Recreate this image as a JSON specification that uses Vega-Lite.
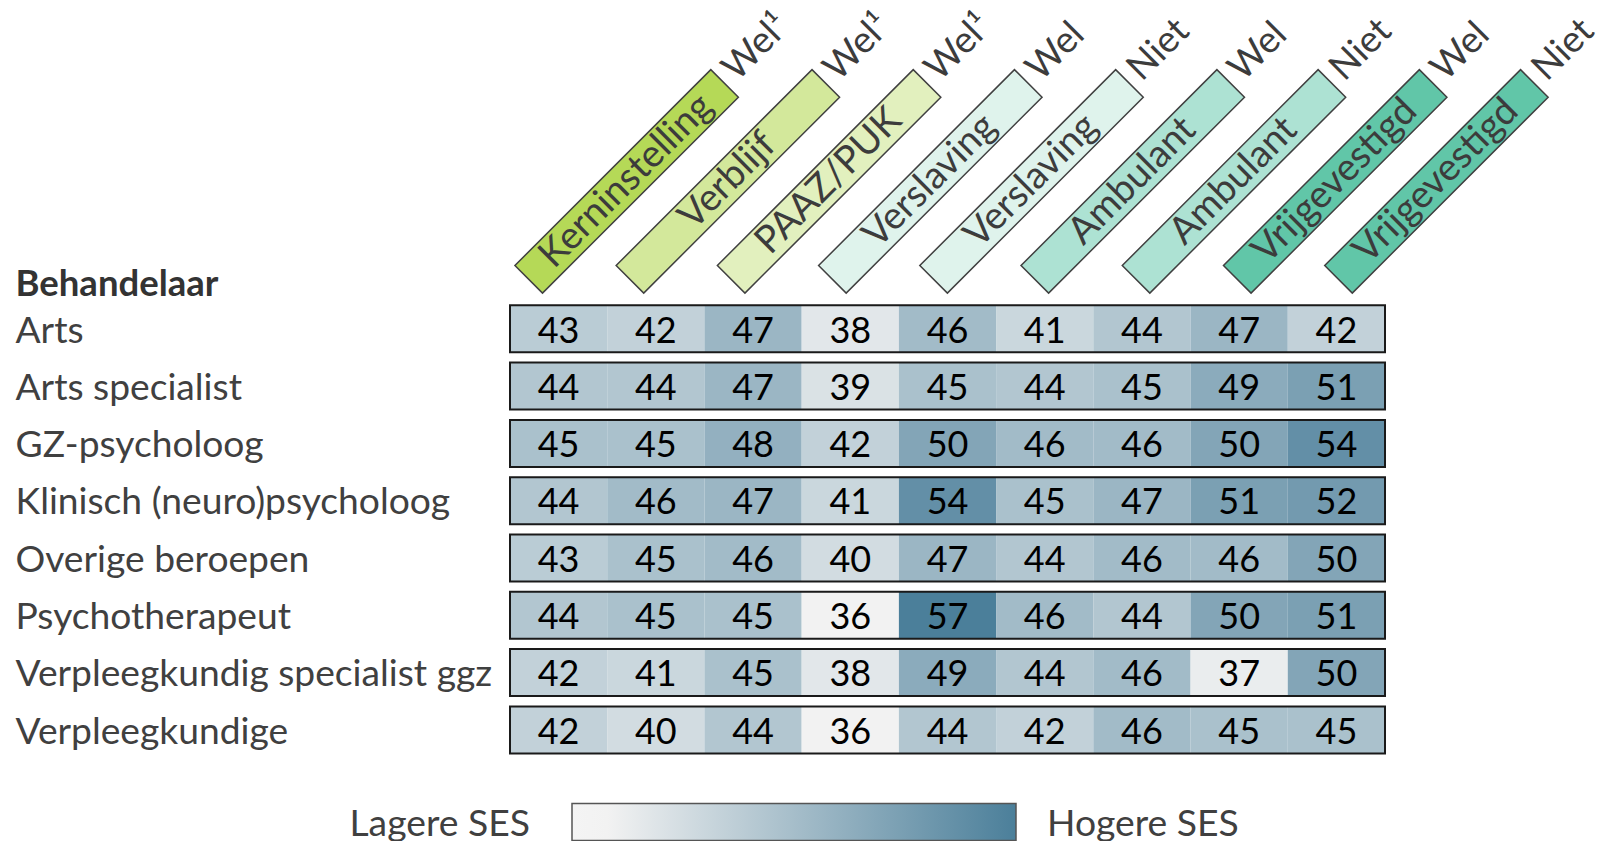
{
  "$schema": "https://vega.github.io/schema/vega-lite/v6.json",
  "autosize": {"type": "pad"},
  "padding": {"left": 15, "top": 0, "right": 4, "bottom": 0},
  "background": "white",
  "bounds": "flush",
  "spacing": 49.3,
  "config": {"font": "Lato", "view": {"stroke": null}},
  "datasets": {
    "kolommen": [
      {"kolom": "Kerninstelling (Wel¹)", "type": "Kerninstelling", "status": "Wel¹"},
      {"kolom": "Verblijf (Wel¹)", "type": "Verblijf", "status": "Wel¹"},
      {"kolom": "PAAZ/PUK (Wel¹)", "type": "PAAZ/PUK", "status": "Wel¹"},
      {"kolom": "Verslaving (Wel)", "type": "Verslaving", "status": "Wel"},
      {"kolom": "Verslaving (Niet)", "type": "Verslaving", "status": "Niet"},
      {"kolom": "Ambulant (Wel)", "type": "Ambulant", "status": "Wel"},
      {"kolom": "Ambulant (Niet)", "type": "Ambulant", "status": "Niet"},
      {"kolom": "Vrijgevestigd (Wel)", "type": "Vrijgevestigd", "status": "Wel"},
      {"kolom": "Vrijgevestigd (Niet)", "type": "Vrijgevestigd", "status": "Niet"}
    ],
    "cellen": [
      {"behandelaar": "Arts", "kolom": "Kerninstelling (Wel¹)", "ses": 43},
      {"behandelaar": "Arts", "kolom": "Verblijf (Wel¹)", "ses": 42},
      {"behandelaar": "Arts", "kolom": "PAAZ/PUK (Wel¹)", "ses": 47},
      {"behandelaar": "Arts", "kolom": "Verslaving (Wel)", "ses": 38},
      {"behandelaar": "Arts", "kolom": "Verslaving (Niet)", "ses": 46},
      {"behandelaar": "Arts", "kolom": "Ambulant (Wel)", "ses": 41},
      {"behandelaar": "Arts", "kolom": "Ambulant (Niet)", "ses": 44},
      {"behandelaar": "Arts", "kolom": "Vrijgevestigd (Wel)", "ses": 47},
      {"behandelaar": "Arts", "kolom": "Vrijgevestigd (Niet)", "ses": 42},
      {"behandelaar": "Arts specialist", "kolom": "Kerninstelling (Wel¹)", "ses": 44},
      {"behandelaar": "Arts specialist", "kolom": "Verblijf (Wel¹)", "ses": 44},
      {"behandelaar": "Arts specialist", "kolom": "PAAZ/PUK (Wel¹)", "ses": 47},
      {"behandelaar": "Arts specialist", "kolom": "Verslaving (Wel)", "ses": 39},
      {"behandelaar": "Arts specialist", "kolom": "Verslaving (Niet)", "ses": 45},
      {"behandelaar": "Arts specialist", "kolom": "Ambulant (Wel)", "ses": 44},
      {"behandelaar": "Arts specialist", "kolom": "Ambulant (Niet)", "ses": 45},
      {"behandelaar": "Arts specialist", "kolom": "Vrijgevestigd (Wel)", "ses": 49},
      {"behandelaar": "Arts specialist", "kolom": "Vrijgevestigd (Niet)", "ses": 51},
      {"behandelaar": "GZ-psycholoog", "kolom": "Kerninstelling (Wel¹)", "ses": 45},
      {"behandelaar": "GZ-psycholoog", "kolom": "Verblijf (Wel¹)", "ses": 45},
      {"behandelaar": "GZ-psycholoog", "kolom": "PAAZ/PUK (Wel¹)", "ses": 48},
      {"behandelaar": "GZ-psycholoog", "kolom": "Verslaving (Wel)", "ses": 42},
      {"behandelaar": "GZ-psycholoog", "kolom": "Verslaving (Niet)", "ses": 50},
      {"behandelaar": "GZ-psycholoog", "kolom": "Ambulant (Wel)", "ses": 46},
      {"behandelaar": "GZ-psycholoog", "kolom": "Ambulant (Niet)", "ses": 46},
      {"behandelaar": "GZ-psycholoog", "kolom": "Vrijgevestigd (Wel)", "ses": 50},
      {"behandelaar": "GZ-psycholoog", "kolom": "Vrijgevestigd (Niet)", "ses": 54},
      {"behandelaar": "Klinisch (neuro)psycholoog", "kolom": "Kerninstelling (Wel¹)", "ses": 44},
      {"behandelaar": "Klinisch (neuro)psycholoog", "kolom": "Verblijf (Wel¹)", "ses": 46},
      {"behandelaar": "Klinisch (neuro)psycholoog", "kolom": "PAAZ/PUK (Wel¹)", "ses": 47},
      {"behandelaar": "Klinisch (neuro)psycholoog", "kolom": "Verslaving (Wel)", "ses": 41},
      {"behandelaar": "Klinisch (neuro)psycholoog", "kolom": "Verslaving (Niet)", "ses": 54},
      {"behandelaar": "Klinisch (neuro)psycholoog", "kolom": "Ambulant (Wel)", "ses": 45},
      {"behandelaar": "Klinisch (neuro)psycholoog", "kolom": "Ambulant (Niet)", "ses": 47},
      {"behandelaar": "Klinisch (neuro)psycholoog", "kolom": "Vrijgevestigd (Wel)", "ses": 51},
      {"behandelaar": "Klinisch (neuro)psycholoog", "kolom": "Vrijgevestigd (Niet)", "ses": 52},
      {"behandelaar": "Overige beroepen", "kolom": "Kerninstelling (Wel¹)", "ses": 43},
      {"behandelaar": "Overige beroepen", "kolom": "Verblijf (Wel¹)", "ses": 45},
      {"behandelaar": "Overige beroepen", "kolom": "PAAZ/PUK (Wel¹)", "ses": 46},
      {"behandelaar": "Overige beroepen", "kolom": "Verslaving (Wel)", "ses": 40},
      {"behandelaar": "Overige beroepen", "kolom": "Verslaving (Niet)", "ses": 47},
      {"behandelaar": "Overige beroepen", "kolom": "Ambulant (Wel)", "ses": 44},
      {"behandelaar": "Overige beroepen", "kolom": "Ambulant (Niet)", "ses": 46},
      {"behandelaar": "Overige beroepen", "kolom": "Vrijgevestigd (Wel)", "ses": 46},
      {"behandelaar": "Overige beroepen", "kolom": "Vrijgevestigd (Niet)", "ses": 50},
      {"behandelaar": "Psychotherapeut", "kolom": "Kerninstelling (Wel¹)", "ses": 44},
      {"behandelaar": "Psychotherapeut", "kolom": "Verblijf (Wel¹)", "ses": 45},
      {"behandelaar": "Psychotherapeut", "kolom": "PAAZ/PUK (Wel¹)", "ses": 45},
      {"behandelaar": "Psychotherapeut", "kolom": "Verslaving (Wel)", "ses": 36},
      {"behandelaar": "Psychotherapeut", "kolom": "Verslaving (Niet)", "ses": 57},
      {"behandelaar": "Psychotherapeut", "kolom": "Ambulant (Wel)", "ses": 46},
      {"behandelaar": "Psychotherapeut", "kolom": "Ambulant (Niet)", "ses": 44},
      {"behandelaar": "Psychotherapeut", "kolom": "Vrijgevestigd (Wel)", "ses": 50},
      {"behandelaar": "Psychotherapeut", "kolom": "Vrijgevestigd (Niet)", "ses": 51},
      {"behandelaar": "Verpleegkundig specialist ggz", "kolom": "Kerninstelling (Wel¹)", "ses": 42},
      {"behandelaar": "Verpleegkundig specialist ggz", "kolom": "Verblijf (Wel¹)", "ses": 41},
      {"behandelaar": "Verpleegkundig specialist ggz", "kolom": "PAAZ/PUK (Wel¹)", "ses": 45},
      {"behandelaar": "Verpleegkundig specialist ggz", "kolom": "Verslaving (Wel)", "ses": 38},
      {"behandelaar": "Verpleegkundig specialist ggz", "kolom": "Verslaving (Niet)", "ses": 49},
      {"behandelaar": "Verpleegkundig specialist ggz", "kolom": "Ambulant (Wel)", "ses": 44},
      {"behandelaar": "Verpleegkundig specialist ggz", "kolom": "Ambulant (Niet)", "ses": 46},
      {"behandelaar": "Verpleegkundig specialist ggz", "kolom": "Vrijgevestigd (Wel)", "ses": 37},
      {"behandelaar": "Verpleegkundig specialist ggz", "kolom": "Vrijgevestigd (Niet)", "ses": 50},
      {"behandelaar": "Verpleegkundige", "kolom": "Kerninstelling (Wel¹)", "ses": 42},
      {"behandelaar": "Verpleegkundige", "kolom": "Verblijf (Wel¹)", "ses": 40},
      {"behandelaar": "Verpleegkundige", "kolom": "PAAZ/PUK (Wel¹)", "ses": 44},
      {"behandelaar": "Verpleegkundige", "kolom": "Verslaving (Wel)", "ses": 36},
      {"behandelaar": "Verpleegkundige", "kolom": "Verslaving (Niet)", "ses": 44},
      {"behandelaar": "Verpleegkundige", "kolom": "Ambulant (Wel)", "ses": 42},
      {"behandelaar": "Verpleegkundige", "kolom": "Ambulant (Niet)", "ses": 46},
      {"behandelaar": "Verpleegkundige", "kolom": "Vrijgevestigd (Wel)", "ses": 45},
      {"behandelaar": "Verpleegkundige", "kolom": "Vrijgevestigd (Niet)", "ses": 45}
    ],
    "legenda": [
      {"label": "Lagere SES", "ses": 36},
      {"label": "Hogere SES", "ses": 57}
    ]
  },
  "vconcat": [
    {
      "width": 911,
      "height": 256,
      "data": {"name": "kolommen"},
      "encoding": {
        "x": {
          "field": "kolom",
          "type": "nominal",
          "axis": null,
          "scale": {
            "type": "band",
            "paddingInner": 0,
            "paddingOuter": 0,
            "domain": ["Kerninstelling (Wel¹)", "Verblijf (Wel¹)", "PAAZ/PUK (Wel¹)", "Verslaving (Wel)", "Verslaving (Niet)", "Ambulant (Wel)", "Ambulant (Niet)", "Vrijgevestigd (Wel)", "Vrijgevestigd (Niet)"]
          }
        }
      },
      "layer": [
        {
          "mark": {
            "type": "point",
            "shape": "M-0.4569,1.3751L-0.1811,1.6509L1.7776,-0.3078L1.5018,-0.5836Z",
            "size": 40000,
            "filled": true,
            "opacity": 1,
            "stroke": "#404040",
            "strokeWidth": 1.5
          },
          "encoding": {
            "fill": {
              "field": "type",
              "type": "nominal",
              "legend": null,
              "scale": {
                "domain": ["Kerninstelling", "Verblijf", "PAAZ/PUK", "Verslaving", "Ambulant", "Vrijgevestigd"],
                "range": ["#b5d957", "#d3e89b", "#e2f0be", "#dff3ec", "#ade2d3", "#61c6a8"]
              }
            }
          }
        },
        {
          "mark": {
            "type": "text",
            "angle": 315,
            "align": "center",
            "baseline": "middle",
            "dx": 9,
            "dy": 84.4,
            "fontSize": 38,
            "color": "#3c3c3c"
          },
          "encoding": {"text": {"field": "type", "type": "nominal"}}
        },
        {
          "mark": {
            "type": "text",
            "angle": 315,
            "align": "left",
            "baseline": "alphabetic",
            "dx": 157,
            "dy": 92.4,
            "fontSize": 37,
            "color": "#3c3c3c"
          },
          "encoding": {"text": {"field": "status", "type": "nominal"}}
        }
      ]
    },
    {
      "width": 875,
      "height": 448.1,
      "data": {"name": "cellen"},
      "encoding": {
        "y": {
          "field": "behandelaar",
          "type": "nominal",
          "scale": {
            "domain": ["Arts", "Arts specialist", "GZ-psycholoog", "Klinisch (neuro)psycholoog", "Overige beroepen", "Psychotherapeut", "Verpleegkundig specialist ggz", "Verpleegkundige"],
            "paddingInner": 0.18,
            "paddingOuter": 0
          },
          "axis": {
            "title": "Behandelaar",
            "titleFontWeight": "bold",
            "titleFontSize": 36.5,
            "titleColor": "#333333",
            "titleAngle": 0,
            "titleAlign": "left",
            "titleBaseline": "alphabetic",
            "titleX": -495,
            "titleY": -10.3,
            "labelAlign": "left",
            "labelBaseline": "alphabetic",
            "labelOffset": 13.8,
            "labelPadding": 495,
            "labelFontSize": 37.2,
            "labelColor": "#404040",
            "labelLimit": 0,
            "labelOverlap": false,
            "ticks": false,
            "tickSize": 0,
            "domain": false,
            "grid": false
          }
        }
      },
      "layer": [
        {
          "mark": {"type": "rect"},
          "encoding": {
            "x": {
              "field": "kolom",
              "type": "nominal",
              "axis": null,
              "scale": {
                "type": "band",
                "paddingInner": 0,
                "paddingOuter": 0,
                "domain": ["Kerninstelling (Wel¹)", "Verblijf (Wel¹)", "PAAZ/PUK (Wel¹)", "Verslaving (Wel)", "Verslaving (Niet)", "Ambulant (Wel)", "Ambulant (Niet)", "Vrijgevestigd (Wel)", "Vrijgevestigd (Niet)"]
              }
            },
            "color": {
              "field": "ses",
              "type": "quantitative",
              "legend": null,
              "scale": {"type": "linear", "domain": [36, 57], "range": ["#f2f2f2", "#4b7f9a"], "interpolate": "rgb"}
            }
          }
        },
        {
          "mark": {"type": "text", "align": "center", "baseline": "alphabetic", "dy": 13.8, "fontSize": 36, "color": "#000000"},
          "encoding": {
            "x": {"field": "kolom", "type": "nominal", "axis": null},
            "text": {"field": "ses", "type": "quantitative"}
          }
        },
        {
          "transform": [{"aggregate": [{"op": "count", "as": "n"}], "groupby": ["behandelaar"]}],
          "mark": {"type": "rect", "fillOpacity": 0, "stroke": "#1a1a1a", "strokeWidth": 2},
          "encoding": {}
        }
      ]
    },
    {
      "width": 506,
      "height": 37,
      "data": {"name": "legenda"},
      "layer": [
        {
          "transform": [{"aggregate": [{"op": "min", "field": "ses", "as": "lo"}, {"op": "max", "field": "ses", "as": "hi"}]}],
          "mark": {
            "type": "rect",
            "fill": {
              "gradient": "linear",
              "x1": 0, "y1": 0, "x2": 1, "y2": 0,
              "stops": [
                {"offset": 0, "color": "#f4f4f4"},
                {"offset": 0.08, "color": "#f2f2f2"},
                {"offset": 1, "color": "#4b7f9a"}
              ]
            },
            "stroke": "#555555",
            "strokeWidth": 1.5
          },
          "encoding": {
            "x": {"field": "lo", "type": "quantitative", "axis": null, "scale": {"domain": [36, 57], "rangeMin": 62, "nice": false, "zero": false}},
            "x2": {"field": "hi"}
          }
        },
        {
          "transform": [{"filter": "datum.label == 'Lagere SES'"}],
          "mark": {"type": "text", "align": "right", "baseline": "middle", "dx": -42, "dy": 3, "fontSize": 37.3, "color": "#404040"},
          "encoding": {
            "x": {"field": "ses", "type": "quantitative", "axis": null},
            "text": {"field": "label", "type": "nominal"}
          }
        },
        {
          "transform": [{"filter": "datum.label == 'Hogere SES'"}],
          "mark": {"type": "text", "align": "left", "baseline": "middle", "dx": 31, "dy": 3, "fontSize": 37.3, "color": "#404040"},
          "encoding": {
            "x": {"field": "ses", "type": "quantitative", "axis": null},
            "text": {"field": "label", "type": "nominal"}
          }
        }
      ]
    }
  ]
}
